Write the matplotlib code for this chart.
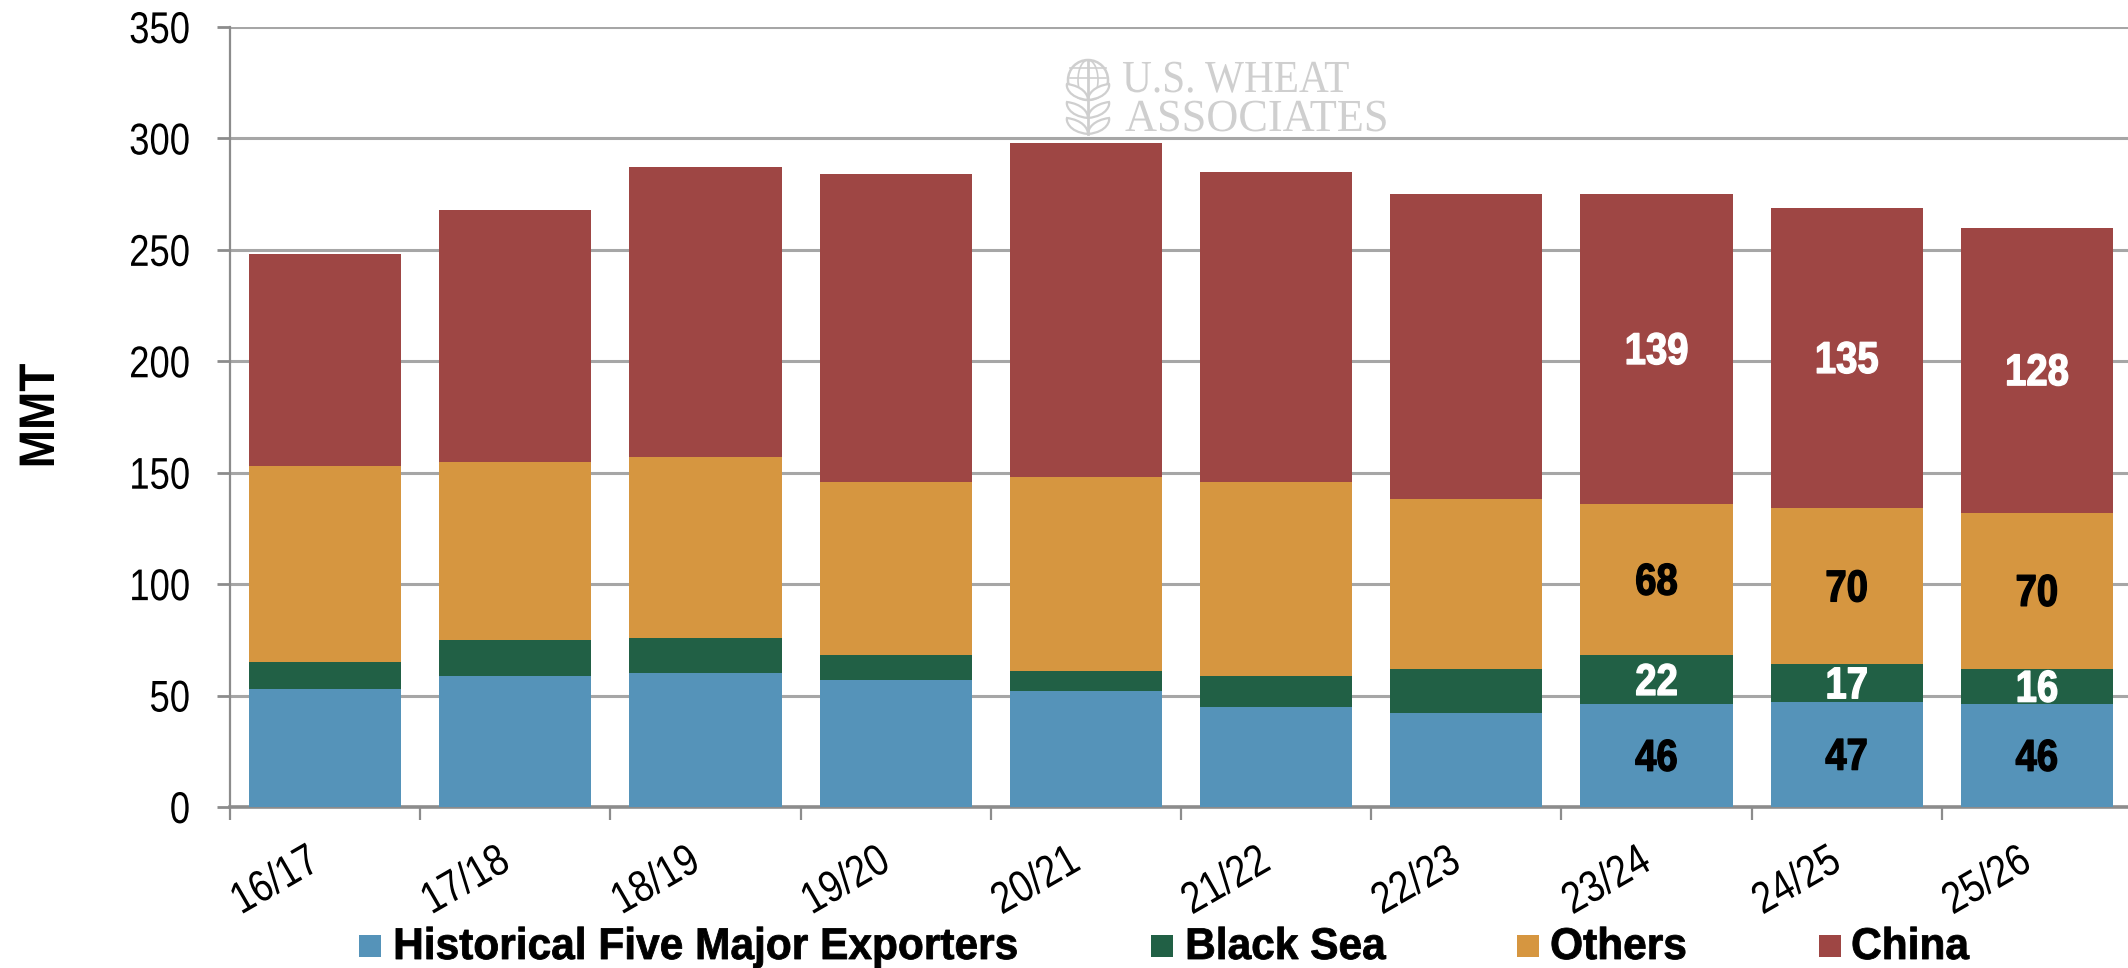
import numpy as np
import matplotlib
matplotlib.use("Agg")
import matplotlib.pyplot as plt
from matplotlib.patches import Rectangle, Ellipse, PathPatch
from matplotlib.path import Path
from matplotlib.patheffects import AbstractPathEffect
from matplotlib.transforms import Affine2D, ScaledTranslation

seasons = ["16/17","17/18","18/19","19/20","20/21","21/22","22/23","23/24","24/25","25/26"]
exporters = [53,59,60,57,52,45,42,46,47,46]
black_sea = [12,16,16,11,9,14,20,22,17,16]
others = [88,80,81,78,87,87,76,68,70,70]
china = [95,113,130,138,150,139,137,139,135,128]
series_names = ["Historical Five Major Exporters","Black Sea","Others","China"]
colors = ["#5593B9","#216045","#D69640","#9E4644"]
label_colors = ["black","white","black","white"]
yticks = [0,50,100,150,200,250,300,350]

class Condense(AbstractPathEffect):
    """Narrow the glyphs of a real text horizontally (no condensed face is installed)."""
    def __init__(self, sx, anchor="center", stroke=0.0):
        super().__init__()
        self.sx, self.anchor, self.stroke = sx, anchor, stroke
    def draw_path(self, renderer, gc, tpath, affine, rgbFace=None):
        e = tpath.get_extents()
        a = {"left": e.x0, "right": e.x1, "center": (e.x0 + e.x1) / 2}[self.anchor]
        t = Affine2D().translate(-a, 0).scale(self.sx, 1).translate(a, 0) + affine
        if self.stroke and rgbFace is not None:
            g = renderer.new_gc()
            g.copy_properties(gc)
            g.set_linewidth(self.stroke)
            g.set_foreground(rgbFace)
            renderer.draw_path(g, tpath, t, rgbFace)
            g.restore()
        else:
            renderer.draw_path(gc, tpath, t, rgbFace)

W,H = 2128,968
sans = ["Liberation Sans","DejaVu Sans"]
fig = plt.figure(figsize=(W/100,H/100),dpi=100,facecolor="white")
ax = fig.add_axes([230/W,(H-807)/H,(W-230)/W,780/H])
step = 190.2
ax.set_xlim(-0.5,-0.5+(W-230)/step)
ax.set_ylim(0,350)
ax.set_axisbelow(True)
ax.yaxis.grid(True,color="#A6A6A6",lw=2.2)
ax.xaxis.grid(False)
for s in ["top","right"]:
    ax.spines[s].set_visible(False)
ax.spines["left"].set_color("#8C8C8C"); ax.spines["left"].set_linewidth(1.6)
ax.spines["bottom"].set_color("#8C8C8C"); ax.spines["bottom"].set_linewidth(2.6)

x = np.arange(len(seasons))
bottom = np.zeros(len(seasons))
layers = [exporters,black_sea,others,china]
for vals,c,lc in zip(layers,colors,label_colors):
    vals = np.array(vals)
    ax.bar(x,vals,width=0.8,bottom=bottom,color=c,edgecolor="none",zorder=3)
    for i in range(7,10):
        ax.annotate(str(vals[i]),(x[i],bottom[i]+vals[i]/2),xytext=(0,-2.5),textcoords="offset points",
                    ha="center",va="center",color=lc,fontsize=32,fontweight="bold",family=sans,zorder=4,
                    path_effects=[Condense(0.86,"center",stroke=1.0)])
    bottom += vals

ax.set_yticks(yticks)
ax.set_yticklabels([str(v) for v in yticks],family=sans,fontsize=32)
ax.tick_params(axis="y",length=9.5,width=2,color="#8C8C8C",pad=19)
for lb in ax.get_yticklabels():
    lb.set_path_effects([Condense(0.82,"right")])
ax.set_xticks(np.arange(len(seasons))-0.5)
ax.set_xticklabels([])
ax.tick_params(axis="x",which="major",length=9,width=1.6,color="#8C8C8C")
ax.set_xticks(x,minor=True)
ax.set_xticklabels(seasons,minor=True,family=sans,fontsize=32,rotation=30,ha="right",va="top",rotation_mode="anchor")
ax.tick_params(axis="x",which="minor",length=0,pad=24)
for lb in ax.get_xticklabels(minor=True):
    lb.set_path_effects([Condense(0.84,"right")])
    lb.set_transform(lb.get_transform()+ScaledTranslation(-19/100,0,fig.dpi_scale_trans))

fig.text(41/W,1-416/H,"MMT",rotation=90,ha="center",va="center",fontsize=36,fontweight="bold",
         family=sans,path_effects=[Condense(0.92,"center")])

swatch_x = [359,1151,1517,1819]
text_x = [393,1185,1550,1851]
for name,c,sx,tx in zip(series_names,colors,swatch_x,text_x):
    fig.add_artist(Rectangle((sx/W,1-957/H),22/W,22/H,transform=fig.transFigure,facecolor=c,edgecolor="none"))
    fig.text(tx/W,1-959/H,name,ha="left",va="baseline",fontsize=32,fontweight="bold",
             family=sans,color="black",path_effects=[Condense(0.955,"left",stroke=0.6)])

# watermark
wm = "#CFCFCF"
fig.text(1122/W,1-92/H,"U.S. WHEAT",ha="left",va="baseline",fontsize=33,color=wm,family=["Liberation Serif"],
         path_effects=[Condense(0.9,"left")])
fig.text(1125/W,1-131/H,"ASSOCIATES",ha="left",va="baseline",fontsize=33,color=wm,family=["Liberation Serif"],
         path_effects=[Condense(0.967,"left")])
def P(px,py):
    return (px/W,1-py/H)
tf = fig.transFigure
fig.add_artist(Ellipse(P(1088,80),40/W,40/H,transform=tf,fill=False,ec=wm,lw=1.8))
fig.add_artist(Ellipse(P(1088,80),20/W,40/H,transform=tf,fill=False,ec=wm,lw=1.2))
for ly in [68,78]:
    fig.add_artist(plt.Line2D([1070/W,1106/W],[1-ly/H,1-ly/H],transform=tf,color=wm,lw=1.2))
fig.add_artist(plt.Line2D([1088/W,1088/W],[1-60/H,1-134/H],transform=tf,color=wm,lw=2))
for y0 in [84,102,118]:
    for sgn in [-1,1]:
        verts=[P(1088,y0+16),P(1088+sgn*20,y0+14),P(1088+sgn*22,y0+2),P(1088+sgn*21,y0),
               P(1088+sgn*6,y0+2),P(1088,y0+10),P(1088,y0+16)]
        codes=[Path.MOVETO,Path.CURVE4,Path.CURVE4,Path.CURVE4,Path.CURVE4,Path.CURVE4,Path.CURVE4]
        fig.add_artist(PathPatch(Path(verts,codes),transform=tf,fc="white",ec=wm,lw=1.6))

fig.savefig("out.png",dpi=100,facecolor="white")
